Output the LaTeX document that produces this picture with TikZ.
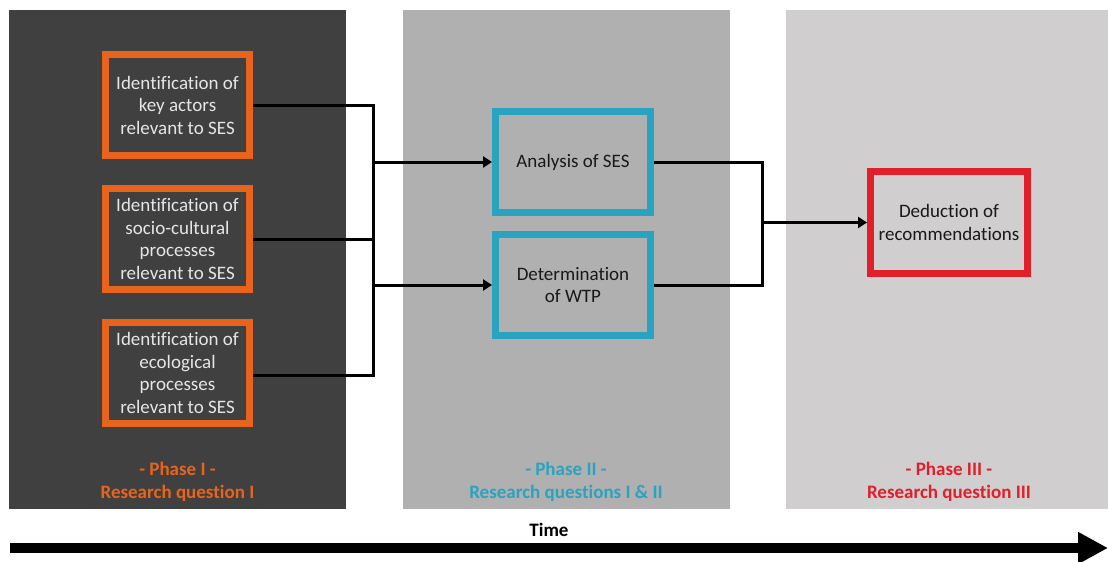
\documentclass[tikz,border=0pt]{standalone}
\usepackage{fontspec}
\setmainfont[Ligatures=NoCommon]{Carlito}
\usetikzlibrary{arrows.meta}
\definecolor{panelA}{HTML}{404040}
\definecolor{panelB}{HTML}{B0B0B0}
\definecolor{panelC}{HTML}{D0CECF}
\definecolor{orangeC}{HTML}{E8641C}
\definecolor{blueC}{HTML}{2AA3C0}
\definecolor{redC}{HTML}{E01F2B}
\definecolor{lightT}{HTML}{E6E6E6}
\tikzset{
  box/.style={draw, line width=7pt, align=center, font=\fontsize{19}{22.5}\selectfont, inner sep=0pt},
  obox/.style={box, draw=orangeC, fill=panelA, text=lightT, minimum width=144pt, minimum height=101pt},
  bbox/.style={box, draw=blueC, fill=panelB, text=black!90, minimum width=155pt, minimum height=101pt},
  rbox/.style={box, draw=redC, fill=panelC, text=black!90, minimum width=157pt, minimum height=102pt},
  link/.style={line width=3pt},
  arr/.style={line width=3pt, -{Triangle[length=9pt,width=11pt]}},
  phase/.style={align=center, font=\bfseries\fontsize{19}{23}\selectfont},
}
\begin{document}
\begin{tikzpicture}[x=1pt,y=-1pt]
\useasboundingbox (0,0) rectangle (1108,562);
% background panels for the three phases
\fill[panelA] (9,10) rectangle (346,509);
\fill[panelB] (403,10) rectangle (730,509);
\fill[panelC] (786,10) rectangle (1108,509);

% phase I boxes
\node[obox] (o1) at (177.5,105) {Identification of\\key actors\\relevant to SES};
\node[obox] (o2) at (177.5,239) {Identification of\\socio-cultural\\processes\\relevant to SES};
\node[obox] (o3) at (177.5,373) {Identification of\\ecological\\processes\\relevant to SES};

% phase II boxes
\node[bbox] (b1) at (573,162) {Analysis of SES};
\node[bbox] (b2) at (573,285) {Determination\\of WTP};

% phase III box
\node[rbox] (r1) at (949,222.5) {Deduction of\\recommendations};

% connectors phase I -> phase II
\coordinate (j1) at (373,105);
\coordinate (j3) at (373,375);
\draw[link] (o1.east) -- (j1) -- (j3) -- (o3.east |- j3);
\draw[link] (o2.east) -- (o2.east -| j1);
\draw[arr] (j1 |- b1.west) -- (b1.west);
\draw[arr] (j1 |- b2.west) -- (b2.west);

% connectors phase II -> phase III
\coordinate (k1) at (762,162);
\coordinate (k2) at (762,285);
\draw[link] (b1.east) -- (k1) -- (k2) -- (b2.east);
\draw[arr] (k1 |- r1.west) -- (r1.west);

% phase captions
\node[phase, text=orangeC] (p1) at (177.5,482) {- Phase I -\\Research question I};
\node[phase, text=blueC] (p2) at (566,482) {- Phase II -\\Research questions I \& II};
\node[phase, text=redC] (p3) at (949,482) {- Phase III -\\Research question III};

% time axis
\coordinate (t0) at (10,548);
\coordinate (t1) at (1108,548);
\draw[line width=10pt, -{Triangle[length=30pt,width=30pt]}] (t0) -- (t1);
\node[font=\bfseries\fontsize{19}{20}\selectfont] (time) at (549,530) {Time};
\end{tikzpicture}
\end{document}
